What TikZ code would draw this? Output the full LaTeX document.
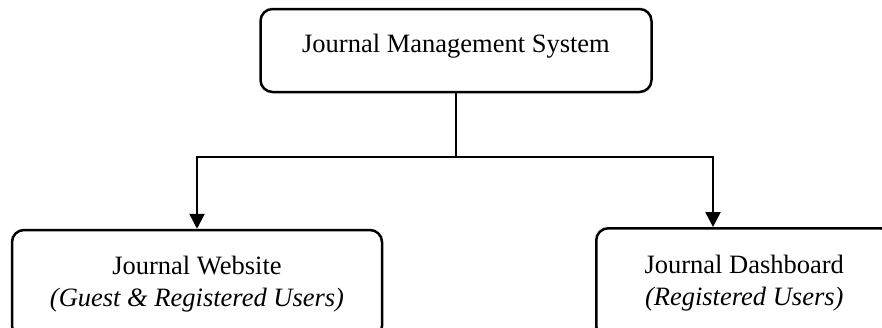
\documentclass[tikz,border=0pt]{standalone}
\usepackage{fontspec}
\setmainfont{Liberation Serif}
\usetikzlibrary{arrows.meta}
\begin{document}
\begin{tikzpicture}[x=1pt,y=1pt,
  box/.style={draw=black, line width=2.5pt, rounded corners=12pt, fill=white,
    align=center, inner sep=0pt, font=\fontsize{26.5}{32}\selectfont},
  conn/.style={draw=black, line width=2.5pt},
  arr/.style={conn, -{Triangle[width=15pt,length=15pt]}}]
\clip (0,0) rectangle (882,-327);
\fill[white] (0,0) rectangle (882,-327);
\node[box, minimum width=391pt, minimum height=83pt, text height=20pt, text depth=17pt]
  (top) at (456,-50.5) {Journal Management System};
\node[box, minimum width=370pt, minimum height=108pt] (web) at (197,-284)
  {Journal Website\\\textit{(Guest \& Registered Users)}};
\node[box, minimum width=296pt, minimum height=110pt, anchor=north west] (dash) at (595,-227)
  {Journal Dashboard\\\textit{(Registered Users)}};
\coordinate (j) at (456,-157);
\draw[conn] (top.south) -- (j);
\draw[arr] (j) -| (web.north);
\draw[arr] (j) -| ([xshift=118pt]dash.north west);
\end{tikzpicture}
\end{document}
